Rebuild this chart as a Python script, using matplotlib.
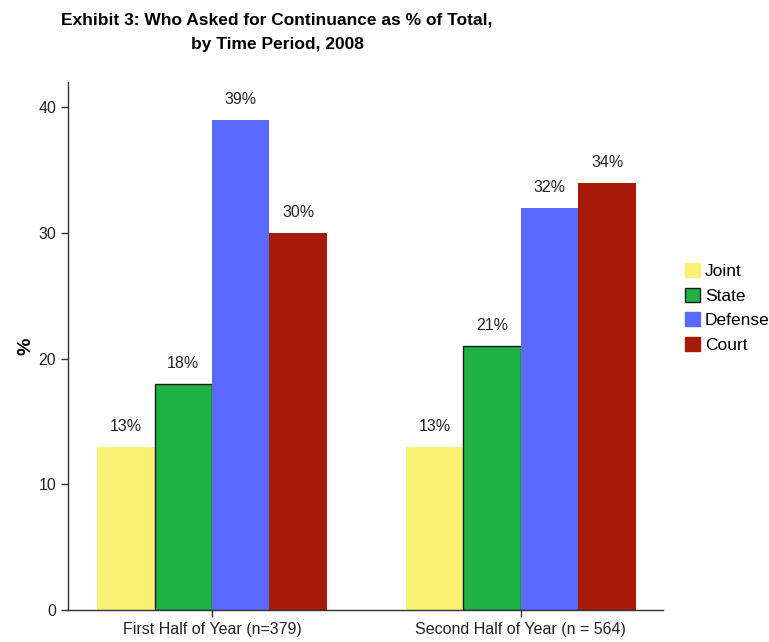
import matplotlib
matplotlib.use("Agg")
import matplotlib.pyplot as plt
import numpy as np
from matplotlib.patches import Patch

plt.rcParams['font.family'] = ['Liberation Sans', 'DejaVu Sans']

groups = ["First Half of Year (n=379)", "Second Half of Year (n = 564)"]
series = ["Joint", "State", "Defense", "Court"]
values = {
    "Joint": [13, 13],
    "State": [18, 21],
    "Defense": [39, 32],
    "Court": [30, 34],
}
colors = {
    "Joint": "#f9f074",
    "State": "#1cb244",
    "Defense": "#5a6aff",
    "Court": "#a51b08",
}
edges = {"Joint": "none", "State": "#1a1a1a", "Defense": "none", "Court": "none"}

fig = plt.figure(figsize=(7.69, 6.42), dpi=100)
ax = fig.add_axes([68/769, 32/642, (663-68)/769, (610-82)/642])

x = np.arange(len(groups))
w = 0.186
for i, s in enumerate(series):
    pos = x + (i - 1.5) * w
    bars = ax.bar(pos, values[s], width=w, color=colors[s],
                  edgecolor=edges[s], linewidth=1.0 if s == "State" else 0, zorder=2)
    for b, v in zip(bars, values[s]):
        ax.annotate(f"{v}%", (b.get_x() + b.get_width()/2, v),
                    xytext=(0, 9), textcoords="offset points",
                    ha="center", va="bottom", fontsize=11.5, color="#222222")

ax.set_xlim(-0.466, 1.46)
ax.set_ylim(0, 42)
ax.set_yticks([0, 10, 20, 30, 40])
ax.set_xticks(x)
ax.set_xticklabels(groups)
ax.tick_params(axis="both", direction="out", length=5, width=1,
               labelsize=11.5, colors="#333333", labelcolor="#222222")
for sp in ["top", "right"]:
    ax.spines[sp].set_visible(False)
for sp in ["left", "bottom"]:
    ax.spines[sp].set_color("#333333")
    ax.spines[sp].set_linewidth(1)

ax.set_ylabel("%", fontsize=14, fontweight="bold")
ax.yaxis.set_label_coords(-0.057, 0.5)

title_font = dict(ha="center", va="center", fontsize=12.5, fontweight="bold")
fig.text(277/769, 1 - 20/642, "Exhibit 3: Who Asked for Continuance as % of Total,", **title_font)
fig.text(277/769, 1 - 44/642, "by Time Period, 2008", **title_font)

handles = [Patch(facecolor=colors[s], edgecolor=("#1a1a1a" if s == "State" else colors[s]),
                 linewidth=1) for s in series]
fig.legend(handles, series, loc="center left", bbox_to_anchor=(678/769, 1 - 308/642),
           frameon=False, fontsize=12.5, handlelength=0.86, handleheight=0.86,
           handletextpad=0.3, labelspacing=0.5, borderaxespad=0)

fig.savefig("out.png", dpi=100)
